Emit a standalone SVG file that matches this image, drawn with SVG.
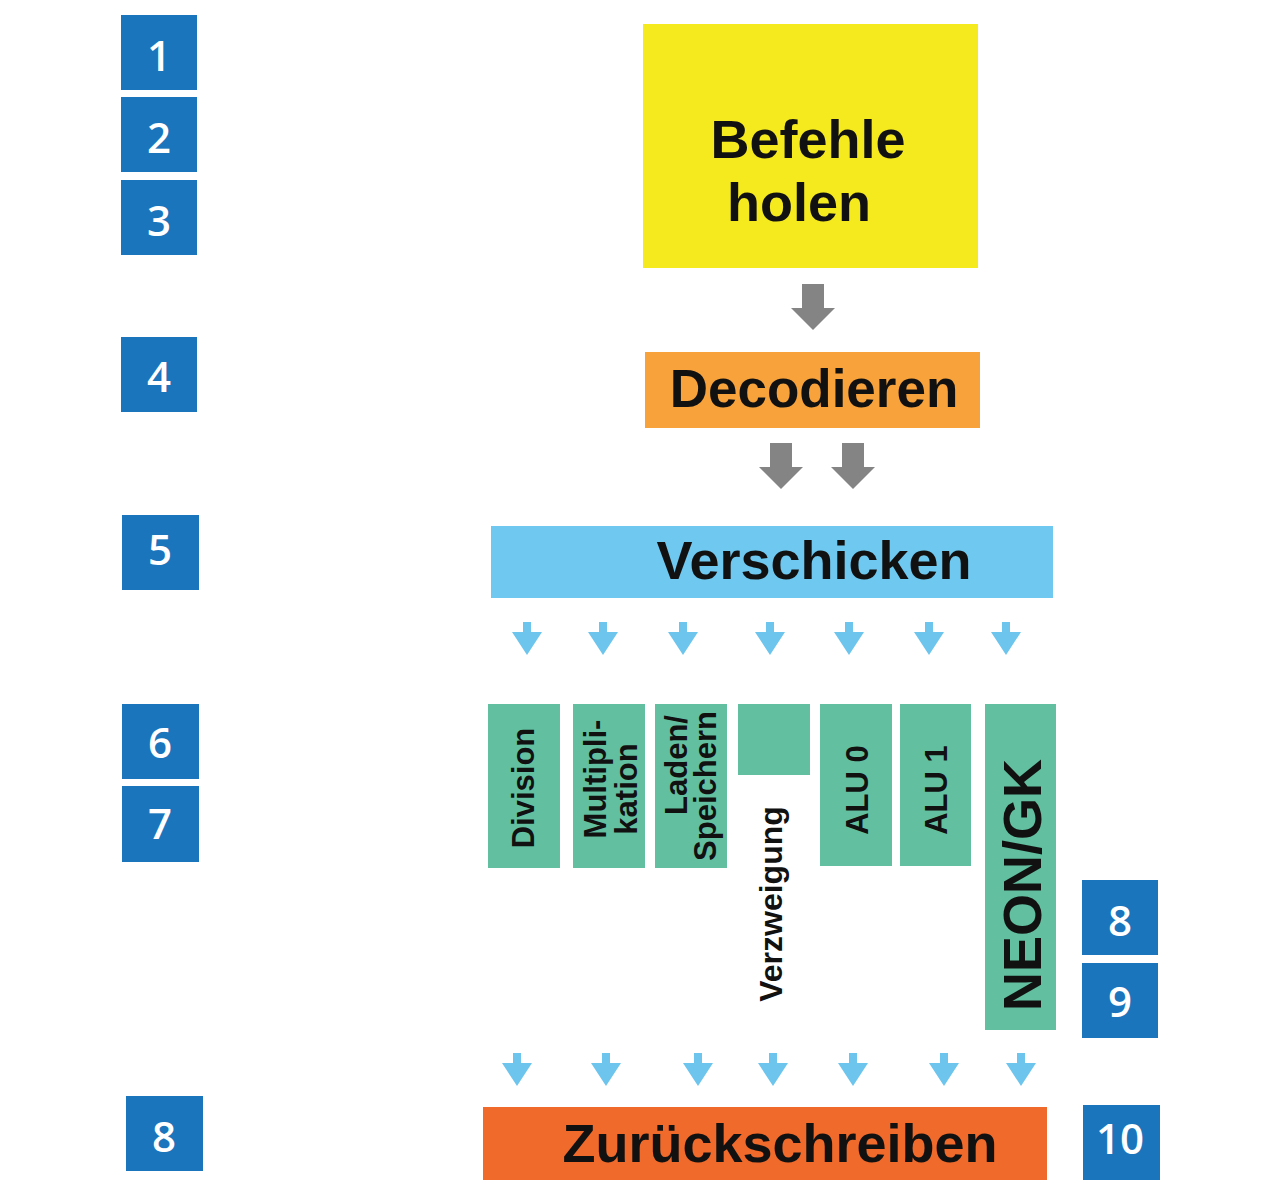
<svg xmlns="http://www.w3.org/2000/svg" width="1280" height="1190" viewBox="0 0 1280 1190">
<defs>
<style>
.num{fill:#1B75BC}
.numt{fill:#fff;font-family:"Open Sans","Liberation Sans",sans-serif;font-weight:600;font-size:42px;text-anchor:middle;dominant-baseline:central}
.lbl{fill:#111;font-family:"Liberation Sans",Arial,sans-serif;font-weight:bold;text-anchor:middle;dominant-baseline:central}
.unit{fill:#62C0A0}
.garrow{fill:#848484}
.barrow{fill:#6DC5EE}
</style>
<path id="ga" d="M-11,0 H11 V24 H22 L0,46 L-22,24 H-11 Z"/>
<path id="ba" d="M-4,0 H4 V10 H15 L0,33 L-15,10 H-4 Z"/>
</defs>
<rect width="1280" height="1190" fill="#fff"/>

<g id="steps-left">
<g id="n1"><rect class="num" x="121" y="15" width="76" height="75"/><text class="numt" x="159" y="54">1</text></g>
<g id="n2"><rect class="num" x="121" y="97" width="76" height="75"/><text class="numt" x="159" y="136">2</text></g>
<g id="n3"><rect class="num" x="121" y="180" width="76" height="75"/><text class="numt" x="159" y="219">3</text></g>
<g id="n4"><rect class="num" x="121" y="337" width="76" height="75"/><text class="numt" x="159" y="375">4</text></g>
<g id="n5"><rect class="num" x="122" y="515" width="77" height="75"/><text class="numt" x="160" y="548">5</text></g>
<g id="n6"><rect class="num" x="122" y="704" width="77" height="75"/><text class="numt" x="160" y="741">6</text></g>
<g id="n7"><rect class="num" x="122" y="786" width="77" height="76"/><text class="numt" x="160" y="822">7</text></g>
<g id="n8l"><rect class="num" x="126" y="1096" width="77" height="75"/><text class="numt" x="164" y="1135">8</text></g>
</g>
<g id="steps-right">
<g id="n8r"><rect class="num" x="1082" y="880" width="76" height="75"/><text class="numt" x="1120" y="919">8</text></g>
<g id="n9"><rect class="num" x="1082" y="963" width="76" height="75"/><text class="numt" x="1120" y="1000">9</text></g>
<g id="n10"><rect class="num" x="1083" y="1105" width="77" height="75"/><text class="numt" x="1120" y="1137">10</text></g>
</g>

<g id="fetch"><rect x="643" y="24" width="335" height="244" fill="#F5EA1E"/>
<text class="lbl" x="808" y="139" font-size="54">Befehle</text>
<text class="lbl" x="799" y="202" font-size="54">holen</text></g>

<g id="decode"><rect x="645" y="352" width="335" height="76" fill="#F7A23B"/>
<text class="lbl" x="814" y="388" font-size="53">Decodieren</text></g>

<g id="dispatch"><rect x="491" y="526" width="562" height="72" fill="#6EC8F0"/>
<text class="lbl" x="814" y="560" font-size="54">Verschicken</text></g>

<g id="div"><rect class="unit" x="488" y="704" width="72" height="164"/>
<text class="lbl" font-size="31" transform="translate(523,788) rotate(-90)">Division</text></g>
<g id="mul"><rect class="unit" x="573" y="704" width="72" height="164"/>
<text class="lbl" font-size="31" transform="translate(595,779) rotate(-90)">Multipli-</text>
<text class="lbl" font-size="31" transform="translate(626,789) rotate(-90)">kation</text></g>
<g id="ldst"><rect class="unit" x="655" y="704" width="72" height="164"/>
<text class="lbl" font-size="31" transform="translate(676,765) rotate(-90)">Laden/</text>
<text class="lbl" font-size="31" transform="translate(705,786) rotate(-90)">Speichern</text></g>
<g id="branch"><rect class="unit" x="738" y="704" width="72" height="71"/>
<text class="lbl" font-size="32" transform="translate(771,904) rotate(-90)">Verzweigung</text></g>
<g id="alu0"><rect class="unit" x="820" y="704" width="72" height="162"/>
<text class="lbl" font-size="31" transform="translate(857,790) rotate(-90)">ALU 0</text></g>
<g id="alu1"><rect class="unit" x="900" y="704" width="71" height="162"/>
<text class="lbl" font-size="31" transform="translate(936,790) rotate(-90)">ALU 1</text></g>
<g id="neon"><rect class="unit" x="985" y="704" width="71" height="326"/>
<text class="lbl" font-size="54" transform="translate(1022,885) rotate(-90)">NEON/GK</text></g>

<g id="writeback"><rect x="483" y="1107" width="564" height="73" fill="#F06A2B"/>
<text class="lbl" x="780" y="1143" font-size="54">Zurückschreiben</text></g>

<g id="connectors">
<use href="#ga" class="garrow" x="813" y="284"/>
<use href="#ga" class="garrow" x="781" y="443"/>
<use href="#ga" class="garrow" x="853" y="443"/>
<use href="#ba" class="barrow" x="527" y="622"/>
<use href="#ba" class="barrow" x="603" y="622"/>
<use href="#ba" class="barrow" x="683" y="622"/>
<use href="#ba" class="barrow" x="770" y="622"/>
<use href="#ba" class="barrow" x="849" y="622"/>
<use href="#ba" class="barrow" x="929" y="622"/>
<use href="#ba" class="barrow" x="1006" y="622"/>
<use href="#ba" class="barrow" x="517" y="1053"/>
<use href="#ba" class="barrow" x="606" y="1053"/>
<use href="#ba" class="barrow" x="698" y="1053"/>
<use href="#ba" class="barrow" x="773" y="1053"/>
<use href="#ba" class="barrow" x="853" y="1053"/>
<use href="#ba" class="barrow" x="944" y="1053"/>
<use href="#ba" class="barrow" x="1021" y="1053"/>
</g>
</svg>
